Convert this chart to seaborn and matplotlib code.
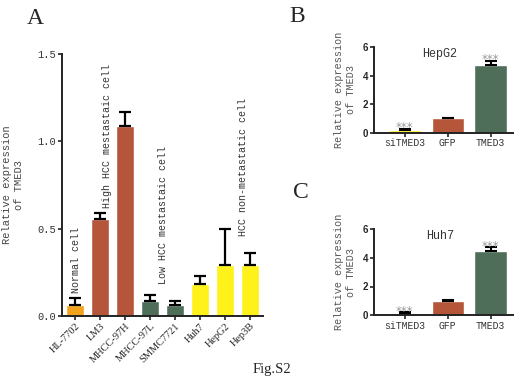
import numpy as np
import matplotlib
matplotlib.use("Agg")
import matplotlib.pyplot as plt
import seaborn as sns

# Panel A data
cells = ["HL-7702", "LM3", "MHCC-97H", "MHCC-97L", "SMMC7721", "Huh7", "HepG2", "Hep3B"]
expr_a = [0.065, 0.555, 1.085, 0.085, 0.065, 0.18, 0.29, 0.29]
err_a = [0.035, 0.035, 0.085, 0.035, 0.02, 0.05, 0.21, 0.07]
colors_a = ["#F3A21D", "#B5553A", "#B5553A", "#4F6E59", "#4F6E59", "#FFF21A", "#FFF21A", "#FFF21A"]

# Panels B / C data
groups = ["siTMED3", "GFP", "TMED3"]
expr_b = [0.2, 1.02, 4.75]
err_b = [0.1, 0.05, 0.3]
expr_c = [0.12, 1.0, 4.45]
err_c = [0.07, 0.04, 0.3]
colors_bc = ["#FFF21A", "#B5553A", "#4F6E59"]

mono = "Liberation Mono"
serif = "Liberation Serif"

sns.set_style("ticks")
fig = plt.figure(figsize=(5.25, 3.82), dpi=100)


def style_axes(ax):
    sns.despine(ax=ax)
    for s in ["left", "bottom"]:
        ax.spines[s].set_linewidth(1.4)
        ax.spines[s].set_color("#222222")
    ax.tick_params(axis="both", length=3, width=1.2, color="#222222", pad=1)


# ---- Panel A ----
axA = fig.add_axes([0.118, 0.173, 0.383, 0.686])
sns.barplot(x=cells, y=expr_a, hue=cells, palette=colors_a, legend=False,
            width=0.72, errorbar=None, ax=axA, saturation=1)
axA.errorbar(range(len(cells)), expr_a, yerr=[np.zeros(len(cells)), err_a],
             fmt="none", ecolor="black", elinewidth=1.6, capsize=4, capthick=1.6)
axA.set_ylim(0, 1.5)
axA.set_xlim(-0.52, 7.52)
axA.set_yticks([0.0, 0.5, 1.0, 1.5])
axA.set_yticklabels(["0.0", "0.5", "1.0", "1.5"], fontfamily=mono, fontsize=7.5, color="#333333")
axA.set_xticks(range(len(cells)))
axA.set_xticklabels(cells, rotation=45, ha="right", rotation_mode="anchor",
                    fontfamily=serif, fontsize=7.5)
axA.set_ylabel("Relative expression\nof TMED3", fontfamily=mono, fontsize=7.5,
               color="#444444", labelpad=10)
style_axes(axA)

notes = [("Normal cell", 0.04, 0.13), ("High HCC mestastaic cell", 1.28, 0.62),
         ("Low HCC mestastaic cell", 3.52, 0.18), ("HCC non-metastatic cell", 6.72, 0.46)]
for txt, xx, yy in notes:
    axA.text(xx, yy, txt, rotation=90, ha="center", va="bottom",
             fontfamily=mono, fontsize=7.2, color="#333333")


def small_panel(rect, vals, errs, title):
    ax = fig.add_axes(rect)
    sns.barplot(x=groups, y=vals, hue=groups, palette=colors_bc, legend=False,
                width=0.75, errorbar=None, ax=ax, saturation=1)
    ax.errorbar(range(3), vals, yerr=[np.zeros(3), errs], fmt="none",
                ecolor="black", elinewidth=1.5, capsize=4, capthick=1.5)
    ax.set_ylim(0, 6)
    ax.set_xlim(-0.72, 2.52)
    ax.set_yticks([0, 2, 4, 6])
    ax.set_yticklabels(["0", "2", "4", "6"], fontfamily="Liberation Sans",
                       fontweight="bold", fontsize=7)
    ax.set_xticks(range(3))
    ax.set_xticklabels(groups, fontfamily=mono, fontsize=7, color="#333333")
    ax.set_ylabel("Relative expression\nof TMED3", fontfamily=mono, fontsize=7.3,
                  color="#555555", labelpad=5)
    ax.text(0.82, 5.95, title, ha="center", va="top", fontfamily=mono, fontsize=8.5,
            color="#333333")
    for i in (0, 2):
        ax.text(i, vals[i] + errs[i] + 0.05, "***", ha="center", va="center",
                fontsize=8.5, color="#999999")
    style_axes(ax)
    return ax


small_panel([0.712, 0.652, 0.265, 0.225], expr_b, err_b, "HepG2")
small_panel([0.712, 0.175, 0.265, 0.225], expr_c, err_c, "Huh7")

fig.text(35 / 525, 1 - 18 / 382, "A", fontfamily=serif, fontsize=17, ha="center", va="center")
fig.text(297 / 525, 1 - 17 / 382, "B", fontfamily=serif, fontsize=17, ha="center", va="center")
fig.text(301 / 525, 1 - 193 / 382, "C", fontfamily=serif, fontsize=17, ha="center", va="center")
fig.text(272 / 525, 1 - 370 / 382, "Fig.S2", fontfamily=serif, fontsize=10.5, ha="center", va="center")

fig.savefig("out.png", dpi=100)
